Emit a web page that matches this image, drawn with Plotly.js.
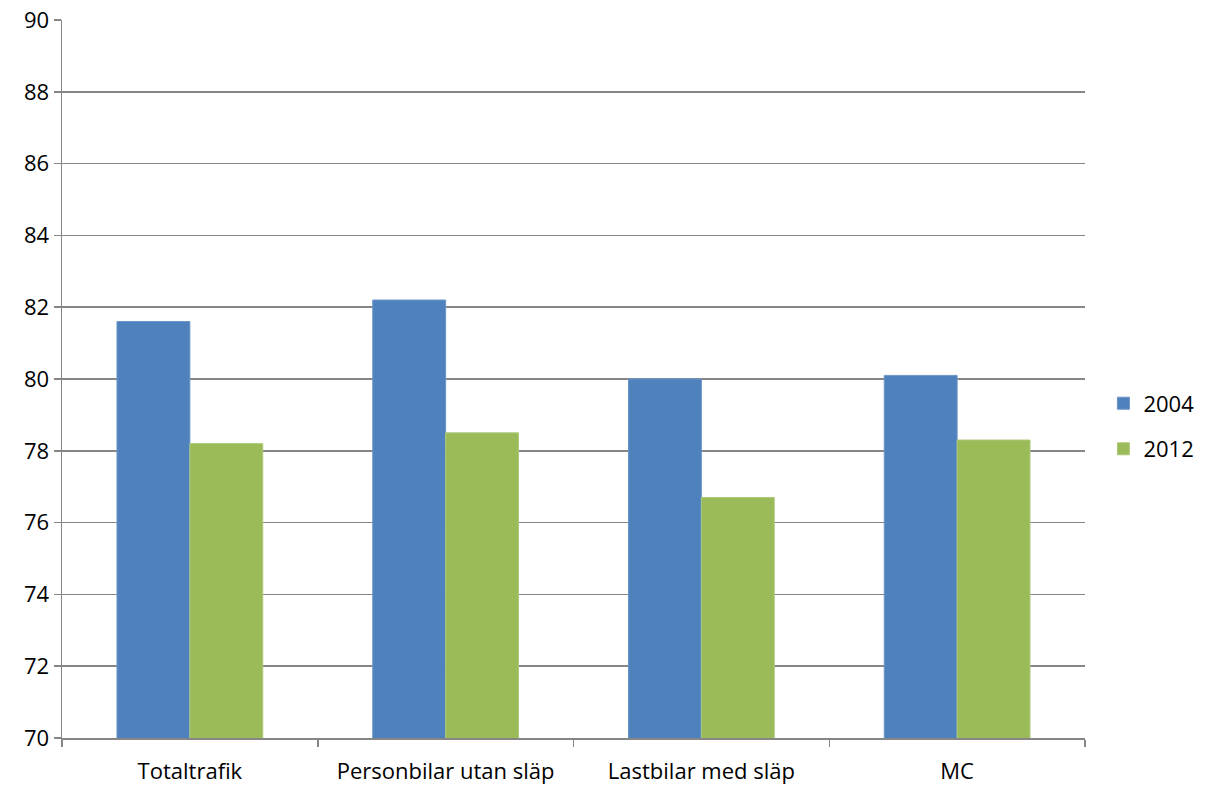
<!DOCTYPE html>
<html>
<head>
<meta charset="utf-8">
<script src="https://cdn.plot.ly/plotly-3.0.1.min.js"></script>
<style>html,body{margin:0;padding:0;background:#fff;}#chart{width:1228px;height:785px;}</style>
</head>
<body>
<div id="chart"></div>
<script>
const categories = ["Totaltrafik", "Personbilar utan släp", "Lastbilar med släp", "MC"];
const series2004 = [81.6, 82.2, 80.0, 80.1];
const series2012 = [78.2, 78.5, 76.7, 78.3];
const yTicks = [70, 72, 74, 76, 78, 80, 82, 84, 86, 88, 90];

const font = "Open Sans, Noto Sans, sans-serif";
const traces = [
  {type: "bar", name: "2004", x: categories, y: series2004, legendgroup: "a",
   marker: {color: "#4F81BD", line: {color: "#6A95C9", width: 1}}},
  {type: "bar", name: "2012", x: categories, y: series2012, legendgroup: "b",
   marker: {color: "#9BBB59", line: {color: "#AEC97A", width: 1}}}
];
const layout = {
  width: 1228, height: 785,
  margin: {l: 62, r: 143, t: 20, b: 47},
  paper_bgcolor: "#fff", plot_bgcolor: "#fff",
  barmode: "group", bargap: 0.43, bargroupgap: 0,
  font: {family: font, size: 22, color: "#000"},
  showlegend: true,
  legend: {x: 1.018, xanchor: "left", y: 0.434, yanchor: "middle",
           font: {family: font, size: 22, color: "#000"},
           traceorder: "grouped", tracegroupgap: 14, itemwidth: 30},
  xaxis: {type: "category", tickson: "boundaries", ticks: "outside", ticklen: 7,
          tickcolor: "#868686", tickwidth: 1.5, showline: true, linecolor: "#868686", linewidth: 1.5,
          showgrid: false, tickfont: {family: font, size: 22}, ticklabelstandoff: 13, automargin: false},
  yaxis: {range: [70, 90], tickvals: yTicks, ticktext: yTicks.map(String),
          ticks: "outside", ticklen: 7, tickcolor: "#868686", tickwidth: 1.5,
          showline: true, linecolor: "#868686", linewidth: 1.5,
          showgrid: true, gridcolor: "#868686", gridwidth: 1.5, zeroline: false,
          tickfont: {family: font, size: 22}, automargin: false}
};
Plotly.newPlot("chart", traces, layout, {displayModeBar: false, staticPlot: true});
</script>
</body>
</html>
